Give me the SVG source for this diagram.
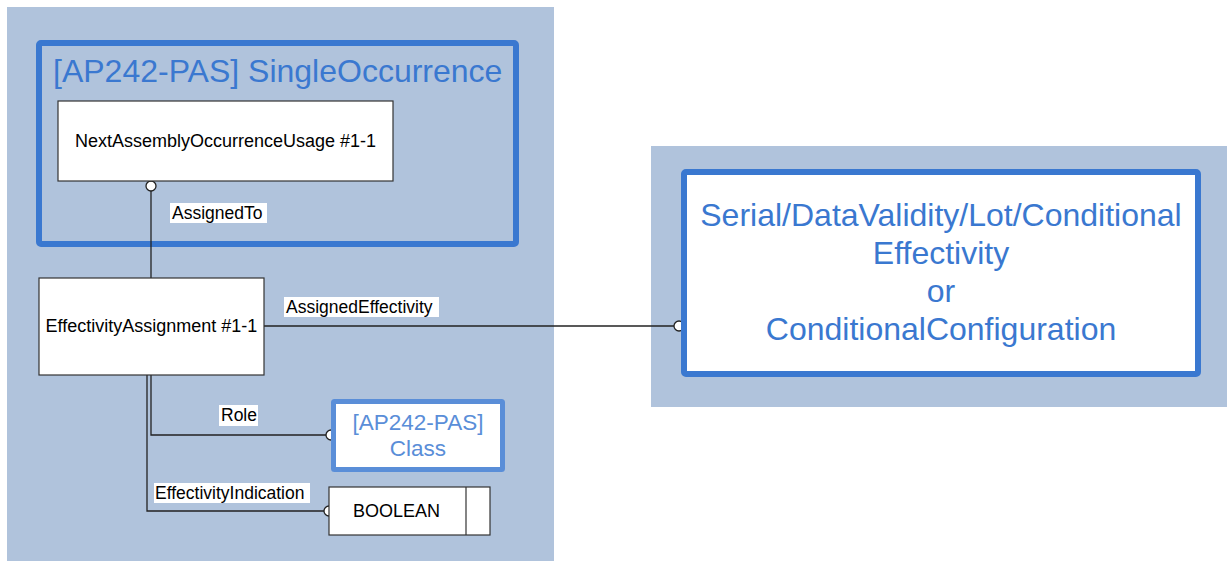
<svg xmlns="http://www.w3.org/2000/svg" width="1227" height="562" viewBox="0 0 1227 562">
<style>
text{font-family:"Liberation Sans",Arial,sans-serif}
.bg{fill:#b0c3dc}
.box{fill:#fff;stroke:#333;stroke-width:1.2}
.nt{font-size:18px;fill:#000}
.lbl{font-size:17.5px;fill:#000}
.lblbg{fill:#fff}
.big{font-size:32px;fill:#3a78d0}
.conn{fill:none;stroke:#222;stroke-width:1.3}
.end{fill:#fff;stroke:#222;stroke-width:1.3}
</style>
<rect class="bg" x="7" y="7" width="547" height="554"/>
<rect class="bg" x="651" y="146" width="576" height="261"/>
<g id="singleOccurrence">
<rect x="39" y="43" width="477" height="201" fill="none" stroke="#3a78d0" stroke-width="6" rx="2"/>
<text class="big" x="53" y="82">[AP242-PAS] SingleOccurrence</text>
</g>
<g id="connectors">
<line class="conn" x1="151" y1="191" x2="151" y2="278"/>
<line class="conn" x1="264" y1="326" x2="674" y2="326"/>
<polyline class="conn" points="151,375 151,435 327,435"/>
<polyline class="conn" points="147,375 147,511 324,511"/>
<circle class="end" cx="151" cy="186" r="5"/>
<circle class="end" cx="679" cy="326" r="5"/>
<circle class="end" cx="331" cy="435" r="5"/>
<circle class="end" cx="329" cy="511" r="5"/>
<rect class="lblbg" x="170" y="203" width="97" height="20"/>
<text class="lbl" x="172" y="219">AssignedTo</text>
<rect class="lblbg" x="284" y="297" width="155" height="20"/>
<text class="lbl" x="286" y="313">AssignedEffectivity</text>
<rect class="lblbg" x="219" y="405" width="39" height="21"/>
<text class="lbl" x="221" y="421">Role</text>
<rect class="lblbg" x="154" y="483" width="156" height="20"/>
<text class="lbl" x="155" y="499">EffectivityIndication</text>
</g>
<g id="naou">
<rect class="box" x="58" y="101" width="335" height="80"/>
<text class="nt" x="225.5" y="147" text-anchor="middle">NextAssemblyOccurrenceUsage #1-1</text>
</g>
<g id="effectivityAssignment">
<rect class="box" x="39" y="278" width="225" height="97"/>
<text class="nt" x="151.5" y="332" text-anchor="middle">EffectivityAssignment #1-1</text>
</g>
<g id="classNode">
<rect x="333.5" y="401.5" width="169" height="68" fill="#fff" stroke="#5a8ed8" stroke-width="5" rx="1"/>
<text x="418" y="430" text-anchor="middle" font-size="22.5" fill="#5a8ed8">[AP242-PAS]</text>
<text x="418" y="456" text-anchor="middle" font-size="22.5" fill="#5a8ed8">Class</text>
</g>
<g id="boolean">
<rect class="box" x="329" y="487" width="161" height="48"/>
<line x1="466" y1="487" x2="466" y2="535" stroke="#333" stroke-width="1.2"/>
<text class="nt" x="353" y="517">BOOLEAN</text>
</g>
<g id="effectivity">
<rect x="684" y="172" width="514" height="202" fill="#fff" stroke="#3a78d0" stroke-width="6" rx="2"/>
<text class="big" x="941" y="226" text-anchor="middle">Serial/DataValidity/Lot/Conditional</text>
<text class="big" x="941" y="264" text-anchor="middle">Effectivity</text>
<text class="big" x="941" y="302" text-anchor="middle">or</text>
<text class="big" x="941" y="340" text-anchor="middle">ConditionalConfiguration</text>
</g>
</svg>
